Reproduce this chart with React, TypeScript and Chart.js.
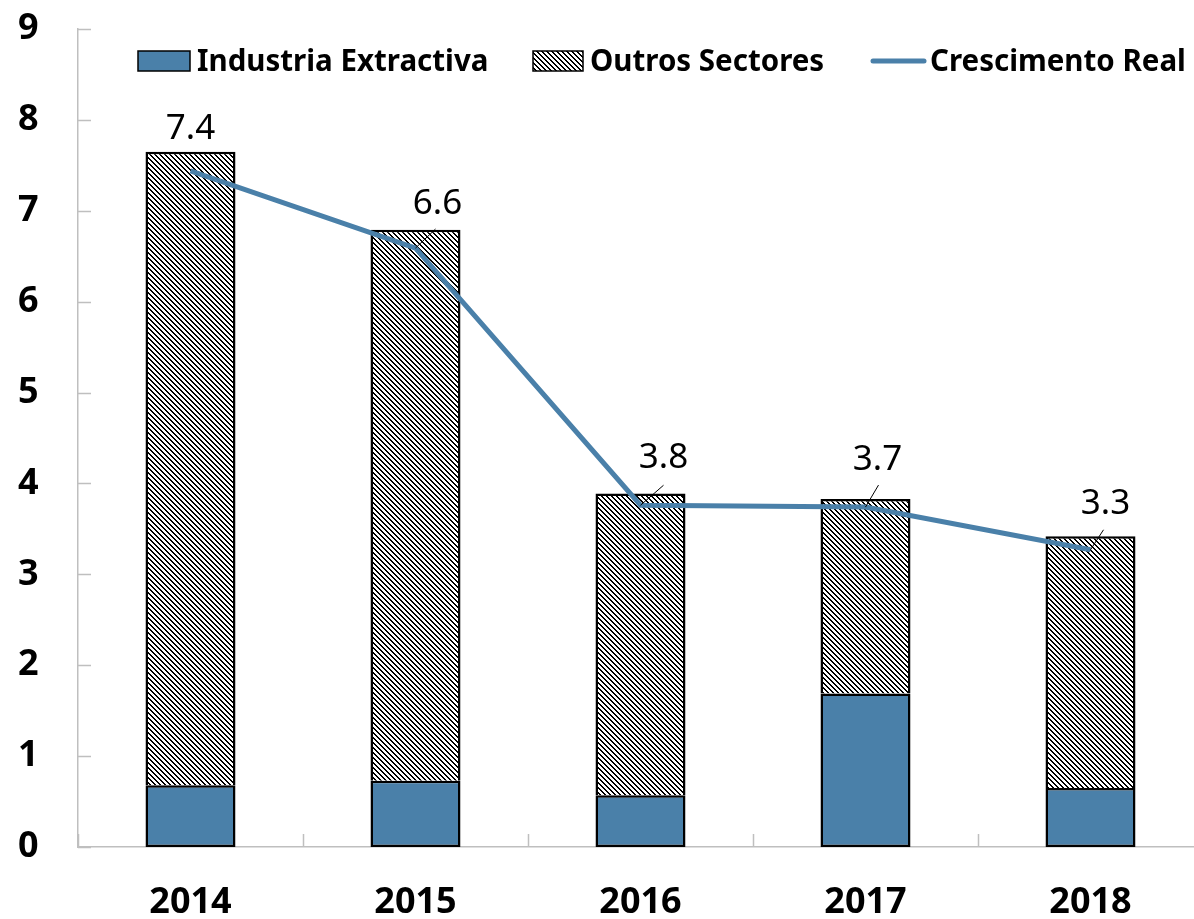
import { useEffect, useRef } from "react";
import { Chart, registerables } from "chart.js";

Chart.register(...registerables);

const categories = ["2014", "2015", "2016", "2017", "2018"];
const industriaExtractiva = [0.68, 0.73, 0.57, 1.69, 0.65];
const outrosSectores = [6.97, 6.06, 3.32, 2.14, 2.77];
const crescimentoReal = [7.44, 6.59, 3.76, 3.74, 3.27];
const legendLabels = ["Industria Extractiva", "Outros Sectores", "Crescimento Real"];

const BLUE = "#4A80A9";
const AXIS = "#bfbfbf";
const FONT = "'Noto Sans', 'Open Sans', sans-serif";

function makeHatch(): CanvasPattern | string {
  const s = 5;
  const c = document.createElement("canvas");
  c.width = s;
  c.height = s;
  const ctx = c.getContext("2d");
  if (!ctx) return "#888";
  ctx.fillStyle = "#fff";
  ctx.fillRect(0, 0, s, s);
  ctx.fillStyle = "#000";
  for (let yy = 0; yy < s; yy++) {
    ctx.fillRect(yy % s, yy, 1, 1);
    ctx.fillRect((yy + 1) % s, yy, 1, 1);
  }
  const p = ctx.createPattern(c, "repeat");
  return p || "#888";
}

export default function App() {
  const ref = useRef<HTMLCanvasElement | null>(null);

  useEffect(() => {
    if (!ref.current) return;
    const hatch = makeHatch();

    const innerTicks = {
      id: "innerTicks",
      afterDraw(chart: any) {
        const ctx = chart.ctx;
        const { x, y } = chart.scales;
        const area = chart.chartArea;
        ctx.save();
        ctx.strokeStyle = AXIS;
        ctx.lineWidth = 1.5;
        ctx.beginPath();
        y.ticks.forEach((t: any) => {
          const py = Math.round(y.getPixelForValue(t.value)) + 0.5;
          ctx.moveTo(area.left, py);
          ctx.lineTo(area.left + 13, py);
        });
        for (let i = 0; i <= categories.length; i++) {
          const px = Math.round(x.getPixelForValue(i - 0.5)) + 0.5;
          ctx.moveTo(px, area.bottom);
          ctx.lineTo(px, area.bottom - 13);
        }
        ctx.stroke();
        ctx.restore();
      },
    };

    const labelOffsets: [number, number, number, number][] = [
      [0, -42, 0, 0],
      [22, -44, 20, -19],
      [23, -47, 23, -20],
      [12, -47, 13, -22],
      [15, -46, 13, -20],
    ];

    const dataLabels = {
      id: "dataLabels",
      afterDatasetsDraw(chart: any) {
        const ctx = chart.ctx;
        const meta = chart.getDatasetMeta(2);
        ctx.save();
        ctx.fillStyle = "#000";
        ctx.strokeStyle = "#000";
        ctx.lineWidth = 1;
        ctx.font = `400 35px ${FONT}`;
        ctx.textAlign = "center";
        ctx.textBaseline = "middle";
        meta.data.forEach((pt: any, i: number) => {
          const [dx, dy, lx, ly] = labelOffsets[i];
          if (lx !== 0 || ly !== 0) {
            ctx.beginPath();
            ctx.moveTo(pt.x, pt.y);
            ctx.lineTo(pt.x + lx, pt.y + ly);
            ctx.stroke();
          }
          ctx.fillText(crescimentoReal[i].toFixed(1), pt.x + dx, pt.y + dy);
        });
        ctx.restore();
      },
    };

    const legendDraw = {
      id: "legendDraw",
      afterDraw(chart: any) {
        const ctx = chart.ctx;
        const cy = 61;
        ctx.save();
        ctx.font = `700 29.5px ${FONT}`;
        ctx.textBaseline = "middle";
        ctx.textAlign = "left";
        // item 1
        ctx.fillStyle = BLUE;
        ctx.fillRect(138, cy - 10, 52, 20);
        ctx.strokeStyle = "#000";
        ctx.lineWidth = 1.5;
        ctx.strokeRect(138, cy - 10, 52, 20);
        ctx.fillStyle = "#000";
        ctx.fillText(legendLabels[0], 197, cy + 2);
        // item 2
        ctx.fillStyle = hatch as any;
        ctx.fillRect(533, cy - 10, 50, 20);
        ctx.strokeRect(533, cy - 10, 50, 20);
        ctx.fillStyle = "#000";
        ctx.fillText(legendLabels[1], 590, cy + 2);
        // item 3
        ctx.strokeStyle = BLUE;
        ctx.lineWidth = 5;
        ctx.lineCap = "round";
        ctx.beginPath();
        ctx.moveTo(873, cy);
        ctx.lineTo(924, cy);
        ctx.stroke();
        ctx.fillStyle = "#000";
        ctx.fillText(legendLabels[2], 930, cy + 2);
        ctx.restore();
      },
    };

    const chart = new Chart(ref.current, {
      type: "bar",
      data: {
        labels: categories,
        datasets: [
          {
            type: "bar",
            label: legendLabels[0],
            data: industriaExtractiva,
            backgroundColor: BLUE,
            borderColor: "#000",
            borderWidth: 2.5,
            borderSkipped: false,
            barPercentage: 0.4,
            categoryPercentage: 1,
            order: 2,
          },
          {
            type: "bar",
            label: legendLabels[1],
            data: outrosSectores,
            backgroundColor: hatch as any,
            borderColor: "#000",
            borderWidth: 2.5,
            borderSkipped: "start",
            barPercentage: 0.4,
            categoryPercentage: 1,
            order: 2,
          },
          {
            type: "line",
            label: legendLabels[2],
            data: crescimentoReal,
            borderColor: BLUE,
            borderWidth: 5,
            pointRadius: 0,
            tension: 0,
            fill: false,
            order: 1,
          } as any,
        ],
      },
      options: {
        animation: false,
        responsive: false,
        maintainAspectRatio: false,
        layout: { padding: { top: 29, right: 0, bottom: 0, left: 18 } },
        plugins: {
          legend: { display: false },
          tooltip: { enabled: false },
        },
        scales: {
          x: {
            stacked: true,
            offset: true,
            grid: { display: false, drawTicks: false },
            border: { display: true, color: AXIS, width: 1.5 },
            ticks: {
              color: "#000",
              font: { family: FONT, size: 36, weight: "bold" },
              padding: 34,
            },
            afterFit(scale: any) {
              scale.height = 72;
            },
          },
          y: {
            stacked: true,
            min: 0,
            max: 9,
            grid: { display: false, drawTicks: false },
            border: { display: true, color: AXIS, width: 1.5 },
            ticks: {
              stepSize: 1,
              color: "#000",
              font: { family: FONT, size: 36, weight: "bold" },
              padding: 0,
              crossAlign: "far",
            },
            afterFit(scale: any) {
              scale.width = 60;
            },
          },
        },
      },
      plugins: [innerTicks, dataLabels, legendDraw],
    });

    return () => chart.destroy();
  }, []);

  return (
    <div
      style={{
        position: "fixed",
        left: 0,
        top: 0,
        width: 1194,
        height: 919,
        overflow: "hidden",
        background: "#fff",
      }}
    >
      <canvas ref={ref} width={1203} height={919} style={{ display: "block", width: 1203, height: 919 }} />
    </div>
  );
}
